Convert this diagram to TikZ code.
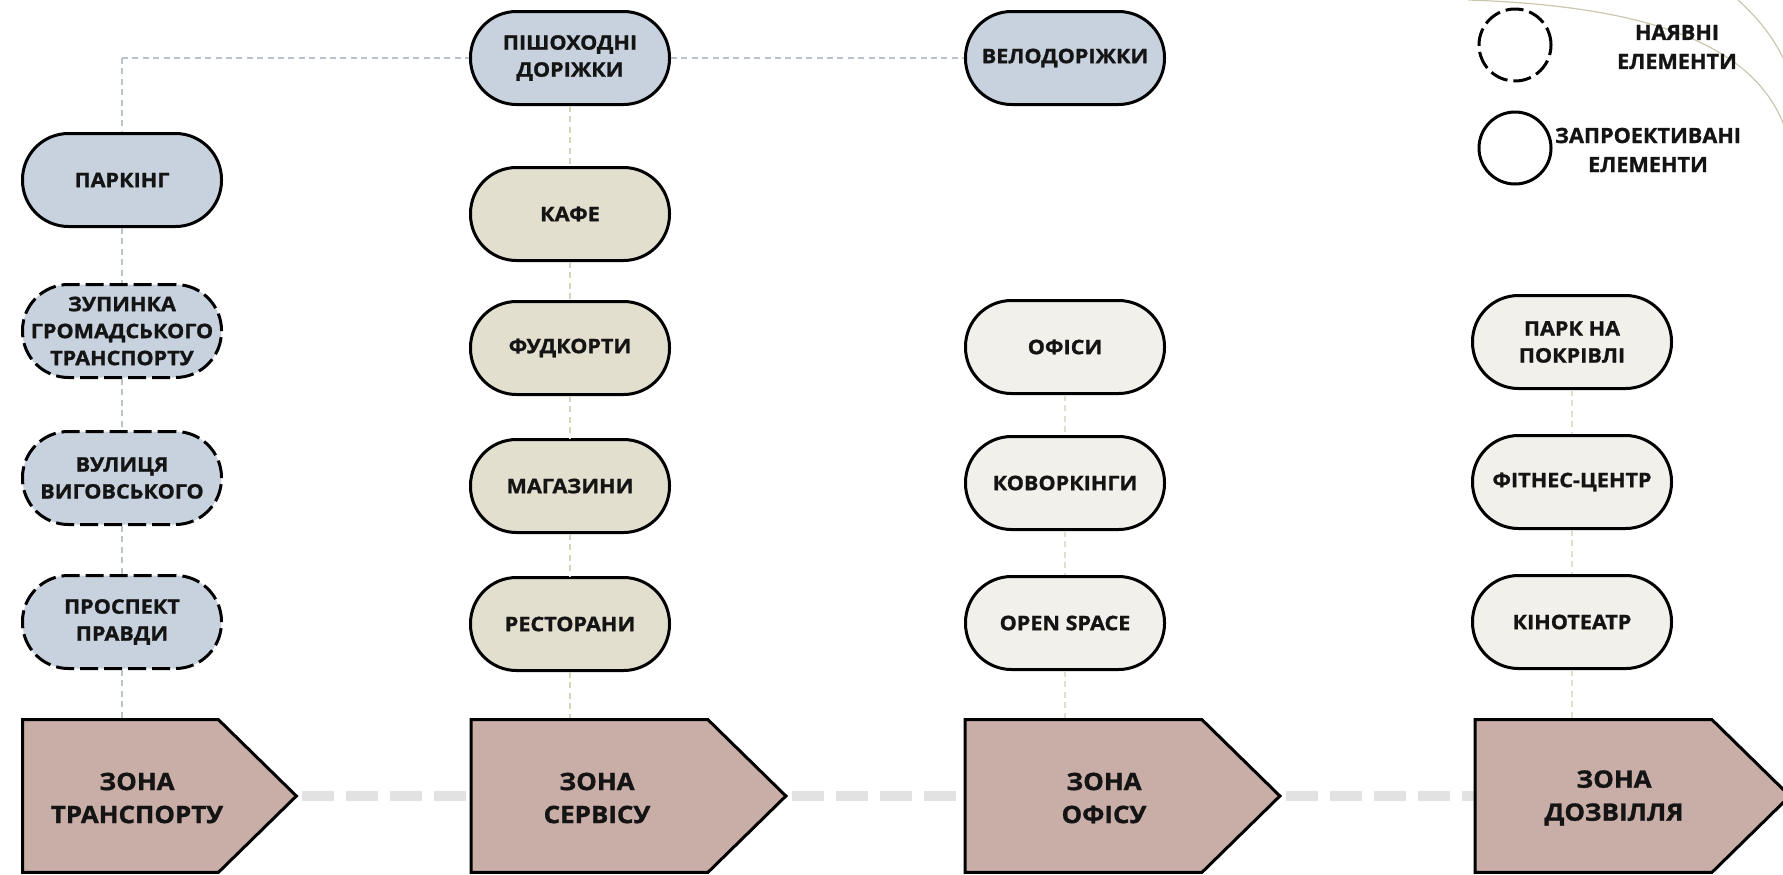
\documentclass[tikz,border=0pt]{standalone}
\usepackage{fontspec}
\setmainfont{Open Sans}[FakeStretch=1.08, BoldFeatures={FakeBold=1.2}]
\definecolor{pblue}{HTML}{C8D2DE}
\definecolor{pbeige}{HTML}{E3DFCF}
\definecolor{pwhite}{HTML}{F2F0EB}
\definecolor{zrose}{HTML}{C9AEA8}
\definecolor{lblue}{HTML}{B9C2CF}
\definecolor{lbeige}{HTML}{D8D4BC}
\definecolor{lwhite}{HTML}{E0DED0}
\definecolor{lgray}{HTML}{E2E2E2}
\definecolor{curvec}{HTML}{CBC7AE}
\definecolor{ink}{HTML}{141414}
\newcommand\pilltext{\fontsize{10}{13.5}\selectfont\bfseries}
\newcommand\zonetext{\fontsize{12}{16.5}\selectfont\bfseries}
\newcommand\legtext{\fontsize{10.5}{14.5}\selectfont\bfseries\addfontfeature{FakeStretch=1.03}}
\begin{document}
\begin{tikzpicture}[x=0.5pt,y=-0.5pt,
  pill/.style={draw=black, line width=1.5pt, rounded corners=23pt,
    minimum width=99.5pt, minimum height=46.5pt, inner sep=0pt,
    align=center, font=\pilltext, text=ink},
  existing/.style={dash pattern=on 9pt off 3pt},
  pb/.style={pill, fill=pblue},
  pe/.style={pill, fill=pbeige},
  pw/.style={pill, fill=pwhite},
  zonebody/.style={minimum width=118pt, minimum height=76pt, inner sep=0pt},
  zonetxt/.style={align=center, font=\zonetext, text=ink},
  zoneshape/.style={draw=black, fill=zrose, line width=1.5pt, line join=miter},
  thin/.style={line width=1.2pt, dash pattern=on 3pt off 2.2pt},
  cblue/.style={thin, draw=lblue},
  cbeige/.style={thin, draw=lbeige},
  cwhite/.style={thin, draw=lwhite},
  zconn/.style={draw=lgray, line width=5pt, dash pattern=on 16pt off 6pt, dash phase=19pt},
  legcirc/.style={circle, draw=black, line width=1.5pt, minimum size=36pt, inner sep=0pt},
  legtxt/.style={align=center, font=\legtext, text=ink},
  curve/.style={draw=curvec, line width=0.6pt}
]
\useasboundingbox (0,0) rectangle (1783,874);
\clip (0,0) rectangle (1783,874);

% decorative curves
\draw[curve] (1468,0) .. controls (1650,6) and (1755,45) .. (1785,128);
\draw[curve] (1738,0) .. controls (1758,18) and (1774,38) .. (1785,62);

% zone bodies (invisible nodes)
\node[zonebody, minimum width=97.5pt] (z1) at (120.5,796) {};
\node[zonebody] (z2) at (589.5,796) {};
\node[zonebody] (z3) at (1083.5,796) {};
\node[zonebody] (z4) at (1593.5,796) {};
\foreach \z in {z1,z2,z3,z4}{
  \coordinate (\z tip) at ([xshift=39pt]\z.east);
}

% pills
\node[pb] (pish) at (570,58) {ПІШОХОДНІ\\ДОРІЖКИ};
\node[pb] (velo) at (1065,58) {ВЕЛОДОРІЖКИ};
\coordinate (cor) at (122,58);

\node[pb] (park) at (122,180) {ПАРКІНГ};
\node[pb,existing] (zup) at (122,331) {ЗУПИНКА\\ГРОМАДСЬКОГО\\ТРАНСПОРТУ};
\node[pb,existing] (vul) at (122,478) {ВУЛИЦЯ\\ВИГОВСЬКОГО};
\node[pb,existing] (pro) at (122,622) {ПРОСПЕКТ\\ПРАВДИ};

\node[pe] (kafe) at (570,214) {КАФЕ};
\node[pe] (fud) at (570,348) {ФУДКОРТИ};
\node[pe] (mag) at (570,486) {МАГАЗИНИ};
\node[pe] (res) at (570,624) {РЕСТОРАНИ};

\node[pw] (ofi) at (1065,347) {ОФІСИ};
\node[pw] (kov) at (1065,483) {КОВОРКІНГИ};
\node[pw] (ope) at (1065,623) {OPEN SPACE};

\node[pw] (prk) at (1572,342) {ПАРК НА\\ПОКРІВЛІ};
\node[pw] (fit) at (1572,482) {ФІТНЕС-ЦЕНТР};
\node[pw] (kin) at (1572,622) {КІНОТЕАТР};

% connectors
\draw[cblue] (cor) -- (pish.west);
\draw[cblue] (pish.east) -- (velo.west);
\draw[cblue] (cor) -- (park.north);
\draw[cblue] (park.south) -- (zup.north);
\draw[cblue] (zup.south) -- (vul.north);
\draw[cblue] (vul.south) -- (pro.north);
\draw[cblue] (pro.south) -- (pro.south |- z1.north);

\draw[cbeige] (pish.south) -- (kafe.north);
\draw[cbeige] (kafe.south) -- (fud.north);
\draw[cbeige] (fud.south) -- (mag.north);
\draw[cbeige] (mag.south) -- (res.north);
\draw[cbeige] (res.south) -- (res.south |- z2.north);

\draw[cwhite] (ofi.south) -- (kov.north);
\draw[cwhite] (kov.south) -- (ope.north);
\draw[cwhite] (ope.south) -- (ope.south |- z3.north);

\draw[cwhite] (prk.south) -- (fit.north);
\draw[cwhite] (fit.south) -- (kin.north);
\draw[cwhite] (kin.south) -- (kin.south |- z4.north);

\draw[zconn] (z1tip) -- (z2.west);
\draw[zconn] (z2tip) -- (z3.west);
\draw[zconn] (z3tip) -- (z4.west);

% zone shapes
\foreach \z in {z1,z2,z3,z4}{
  \draw[zoneshape] (\z.north west) -- (\z.north east) -- (\z tip) -- (\z.south east) -- (\z.south west) -- cycle;
}
\node[zonetxt] (z1t) at (137,798) {ЗОНА\\ТРАНСПОРТУ};
\node[zonetxt] (z2t) at (597,798) {ЗОНА\\СЕРВІСУ};
\node[zonetxt] (z3t) at (1104,798) {ЗОНА\\ОФІСУ};
\node[zonetxt] (z4t) at (1614,798) {ЗОНА\\ДОЗВІЛЛЯ};

% legend
\node[legcirc, existing] (lc1) at (1515,45) {};
\node[legcirc] (lc2) at (1515,148) {};
\node[legtxt] (lt1) at (1677,47) {НАЯВНІ\\ЕЛЕМЕНТИ};
\node[legtxt] (lt2) at (1648,150) {ЗАПРОЕКТИВАНІ\\ЕЛЕМЕНТИ};
\end{tikzpicture}
\end{document}
